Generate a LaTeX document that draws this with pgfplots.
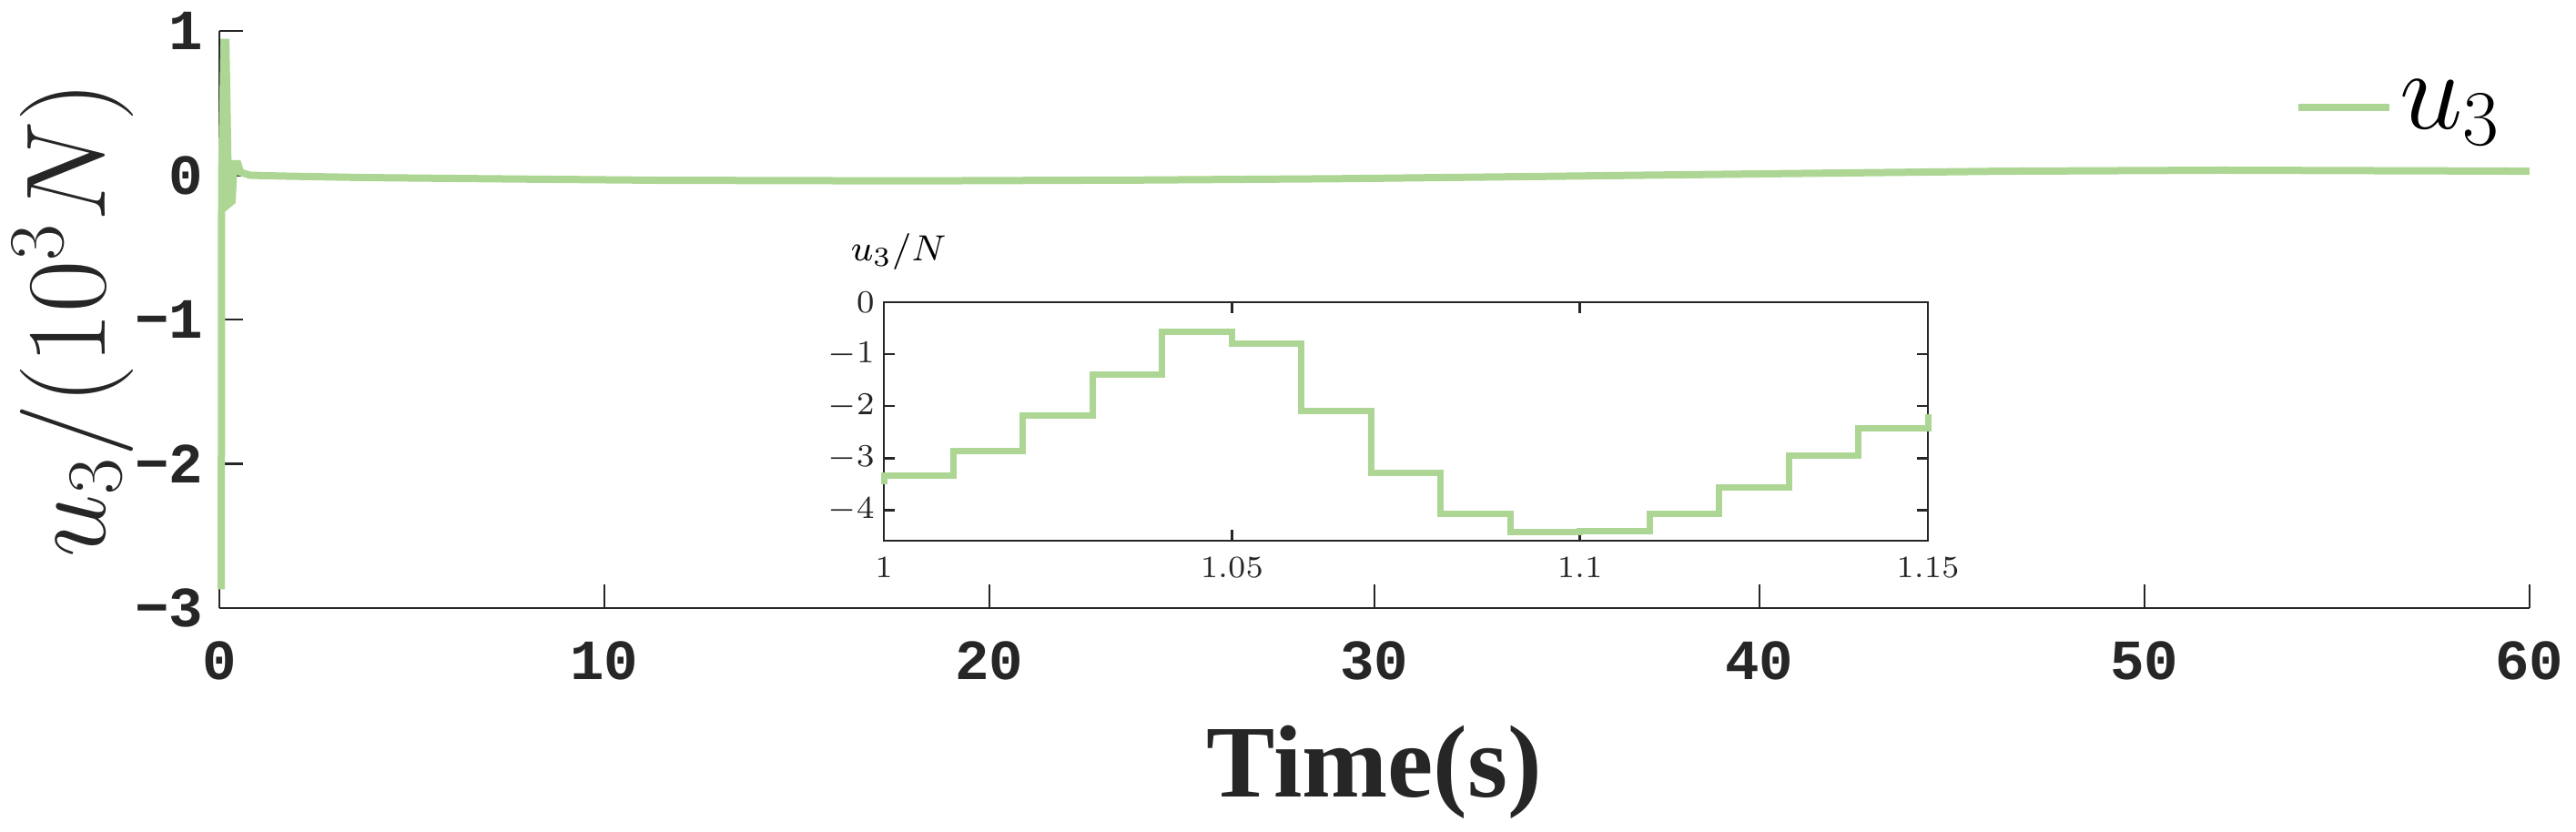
\documentclass[border=0pt]{standalone}
\usepackage{fontspec}
\usepackage{pgfplots}
\pgfplotsset{compat=1.18}
\newfontfamily\monofam{Liberation Mono}
\newfontfamily\timesf{Liberation Serif}
\definecolor{ugreen}{RGB}{173,214,148}
\definecolor{axgray}{RGB}{38,38,38}
\begin{document}
\begin{tikzpicture}
\useasboundingbox (0,0) rectangle (566pt,182.6pt);
\begin{axis}[
  at={(48.2pt,49pt)}, anchor=south west,
  width=507.6pt, height=126.8pt, scale only axis,
  xmin=0, xmax=60, ymin=-3, ymax=1,
  axis x line*=bottom, axis y line*=left,
  tick align=inside, major tick length=5.2pt,
  xtick={0,10,20,30,40,50,60}, ytick={-3,-2,-1,0,1},
  xticklabels={0,10,20,30,40,50,60}, yticklabels={−3,−2,−1,0,1},
  ticklabel style={font=\fontsize{12.5}{14}\monofam\bfseries, text=axgray},
  xticklabel style={yshift=-3.8pt},
  axis line style={axgray, line width=0.55pt},
  every tick/.style={axgray, line width=0.55pt},
  clip=false,
  xlabel={Time(s)}, ylabel={$u_3/(10^3N)$},
  every axis x label/.style={at={(rel axis cs:0.5,-0.328)}, anchor=base, font=\fontsize{22.6}{26}\timesf\bfseries, text=axgray},
  every axis y label/.style={at={(rel axis cs:-0.0496,0.5)}, rotate=90, anchor=base, font=\fontsize{24.6}{28}\selectfont, text=axgray},
  legend style={at={(rel axis cs:0.898,0.8675)}, anchor=west, draw=none, fill=none, inner sep=0pt, font=\fontsize{24}{28}\selectfont, nodes={inner sep=1.5pt}},
  legend image code/.code={\draw[#1] (0pt,0pt) -- (20pt,0pt);},
]
\addplot[ugreen, line width=1.6pt] coordinates {
(0.05,-2.87) (0.06,0.0) (0.12,0.92) (0.17,0.92) (0.24,-0.2) (0.33,-0.18) (0.38,0.08) (0.48,0.08) (0.55,0.02) (0.8,0.0) (1.5,-0.005) (3.8,-0.016) (7.7,-0.026) (11.6,-0.035) (18,-0.039) (24,-0.033) (29,-0.024) (34.7,-0.007) (40.5,0.011) (46.3,0.028) (52,0.035) (58,0.03) (60,0.028)
};
\addlegendentry{$u_3$}
\end{axis}
\begin{axis}[
  at={(194.2pt,63.8pt)}, anchor=south west,
  width=229.4pt, height=52.4pt, scale only axis,
  xmin=1, xmax=1.15, ymin=-4.59, ymax=0,
  xtick={1,1.05,1.1,1.15}, ytick={-4,-3,-2,-1,0},
  xticklabels={1,1.05,1.1,1.15}, yticklabels={$-4$,$-3$,$-2$,$-1$,$0$},
  tick align=inside, major tick length=2.4pt,
  ticklabel style={font=\fontsize{6.8}{8}\selectfont, text=axgray},
  yticklabel style={xshift=1.5pt},
  axis line style={axgray, line width=0.53pt},
  every tick/.style={axgray, line width=0.53pt},
  axis background/.style={fill=white},
  clip=false,
  ylabel={$u_3/N$},
  every axis y label/.style={at={(rel axis cs:-0.047,1.172)}, anchor=base west, font=\fontsize{8}{9}\selectfont},
]
\addplot[const plot, ugreen, line width=1.4pt] coordinates {
(1,-3.5) (1,-3.33) (1.01,-2.87) (1.02,-2.18) (1.03,-1.39) (1.04,-0.57) (1.05,-0.79) (1.06,-2.10) (1.07,-3.28) (1.08,-4.07) (1.09,-4.43) (1.10,-4.41) (1.11,-4.08) (1.12,-3.56) (1.13,-2.96) (1.14,-2.42) (1.15,-2.16)
};
\end{axis}
\end{tikzpicture}
\end{document}
